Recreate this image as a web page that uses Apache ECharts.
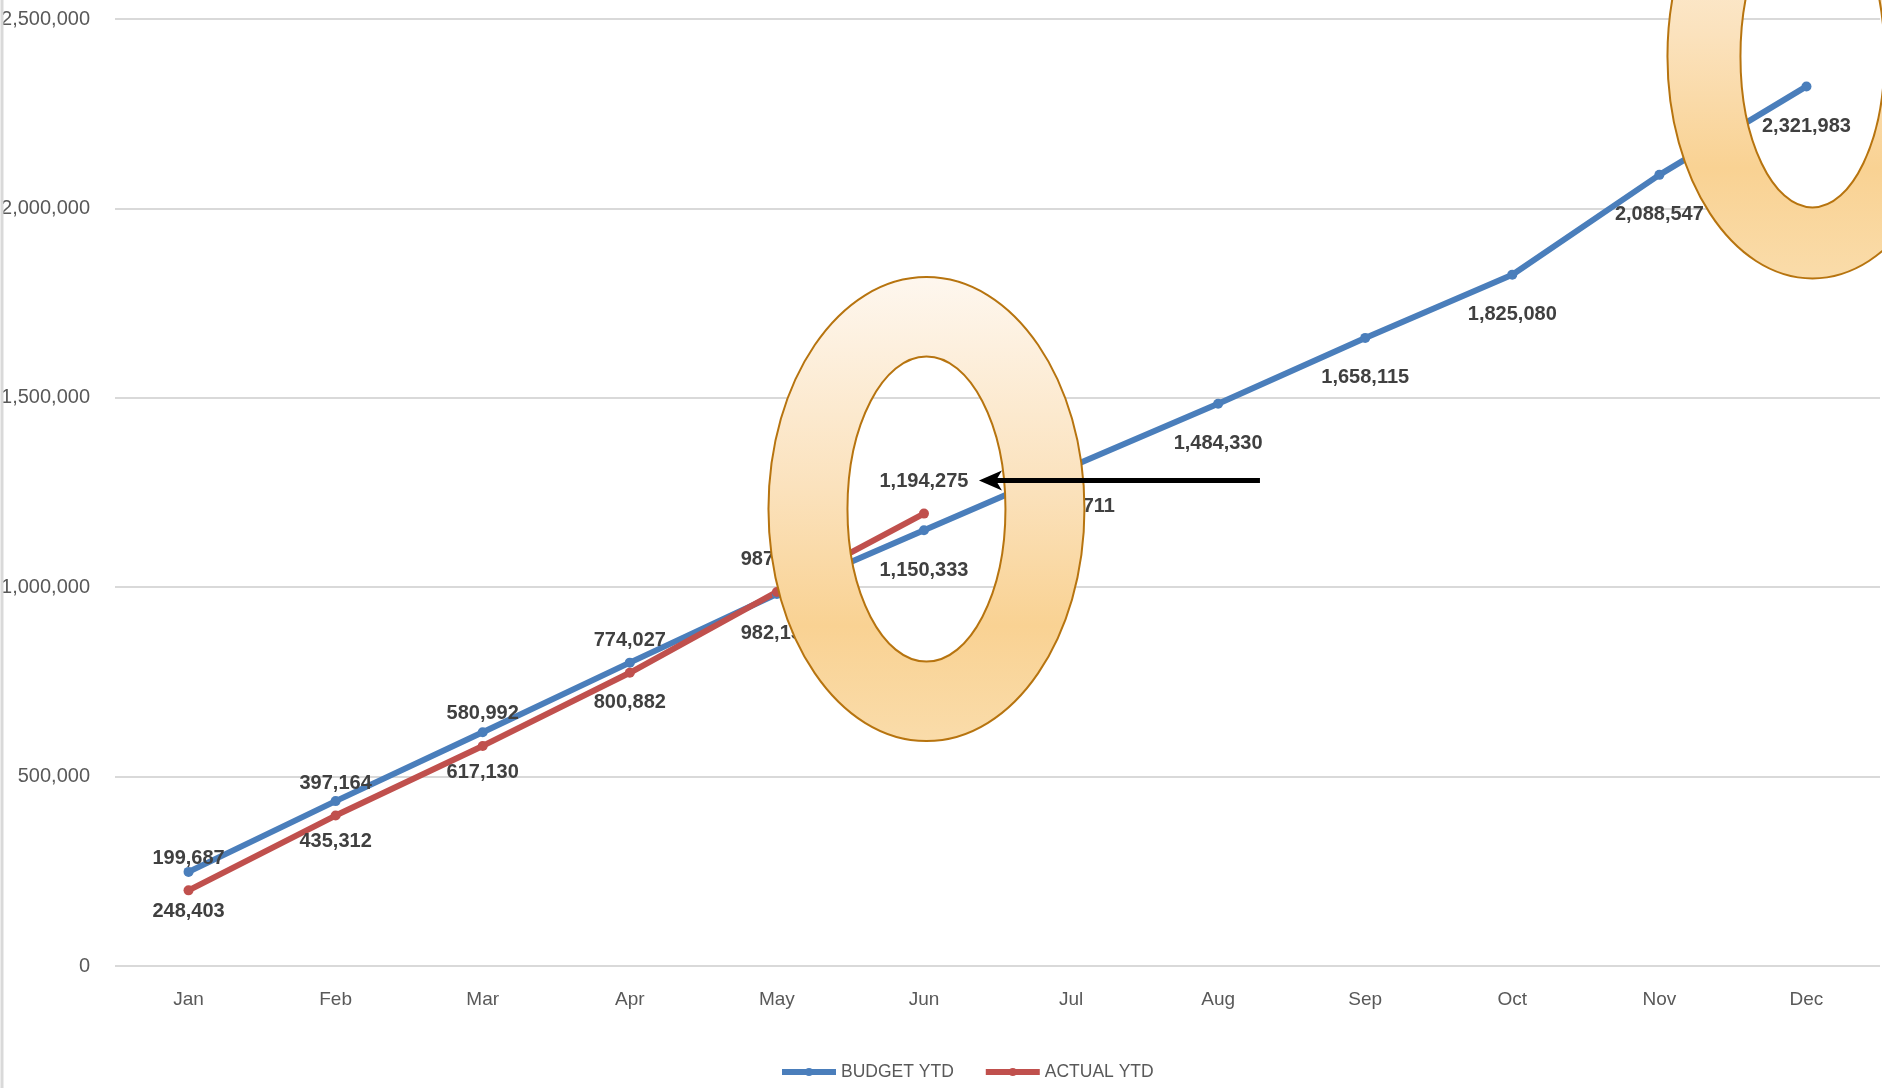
<!DOCTYPE html>
<html>
<head>
<meta charset="utf-8">
<script src="https://cdn.jsdelivr.net/npm/echarts@6/dist/echarts.min.js"></script>
<style>
html,body{margin:0;padding:0;background:#fff;}
#main{width:1882px;height:1088px;}
</style>
</head>
<body>
<div id="main"></div>
<script>
const months = ['Jan','Feb','Mar','Apr','May','Jun','Jul','Aug','Sep','Oct','Nov','Dec'];
const budgetYTD = [248403, 435312, 617130, 800882, 982150, 1150333, 1317711, 1484330, 1658115, 1825080, 2088547, 2321983];
const actualYTD = [199687, 397164, 580992, 774027, 987460, 1194275];
const yMin = 0, yMax = 2500000, yStep = 500000;

const FONT = "'Liberation Sans', Arial, sans-serif";
const fmt = v => Number(v).toLocaleString('en-US');

// elliptical ring shape (outer clockwise, inner counter-clockwise => hole)
function ellipsePath(ctx, cx, cy, rx, ry, ccw) {
  const k = 0.5522848;
  ctx.moveTo(cx + rx, cy);
  if (!ccw) {
    ctx.bezierCurveTo(cx + rx, cy + k * ry, cx + k * rx, cy + ry, cx, cy + ry);
    ctx.bezierCurveTo(cx - k * rx, cy + ry, cx - rx, cy + k * ry, cx - rx, cy);
    ctx.bezierCurveTo(cx - rx, cy - k * ry, cx - k * rx, cy - ry, cx, cy - ry);
    ctx.bezierCurveTo(cx + k * rx, cy - ry, cx + rx, cy - k * ry, cx + rx, cy);
  } else {
    ctx.bezierCurveTo(cx + rx, cy - k * ry, cx + k * rx, cy - ry, cx, cy - ry);
    ctx.bezierCurveTo(cx - k * rx, cy - ry, cx - rx, cy - k * ry, cx - rx, cy);
    ctx.bezierCurveTo(cx - rx, cy + k * ry, cx - k * rx, cy + ry, cx, cy + ry);
    ctx.bezierCurveTo(cx + k * rx, cy + ry, cx + rx, cy + k * ry, cx + rx, cy);
  }
  ctx.closePath();
}
echarts.graphic.registerShape('ellipseRing', echarts.graphic.extendShape({
  shape: {cx: 0, cy: 0, rx: 0, ry: 0, irx: 0, iry: 0},
  buildPath: function (ctx, s) {
    ellipsePath(ctx, s.cx, s.cy, s.rx, s.ry, false);
    ellipsePath(ctx, s.cx, s.cy, s.irx, s.iry, true);
  }
}));

const chart = echarts.init(document.getElementById('main'), null, {renderer: 'canvas'});
chart.setOption({
  animation: false,
  backgroundColor: '#ffffff',
  grid: {left: 115, right: 2, top: 19, bottom: 122, containLabel: false, outerBoundsMode: 'none'},
  legend: {
    left: 774, top: 1058,
    itemWidth: 54, itemHeight: 10, itemGap: 29,
    lineStyle: {width: 6},
    textStyle: {fontFamily: FONT, fontSize: 17.5, color: '#595959'},
    data: ['BUDGET YTD', 'ACTUAL YTD']
  },
  xAxis: {
    type: 'category',
    data: months,
    boundaryGap: true,
    axisLine: {show: false},
    axisTick: {show: false},
    axisLabel: {fontFamily: FONT, fontSize: 19, color: '#595959', margin: 24}
  },
  yAxis: {
    type: 'value',
    min: yMin, max: yMax, interval: yStep,
    axisLine: {show: false},
    axisTick: {show: false},
    splitLine: {lineStyle: {color: '#d9d9d9', width: 2}},
    axisLabel: {fontFamily: FONT, fontSize: 20, color: '#595959', margin: 25, formatter: fmt}
  },
  series: [
    {
      name: 'BUDGET YTD', type: 'line', data: budgetYTD,
      symbol: 'circle', symbolSize: 10,
      lineStyle: {color: '#4a7ebb', width: 6},
      itemStyle: {color: '#4a7ebb'},
      label: {show: true, position: 'bottom', distance: 25, formatter: p => fmt(p.value),
        fontFamily: FONT, fontWeight: 'bold', fontSize: 20, color: '#404040'}
    },
    {
      name: 'ACTUAL YTD', type: 'line', data: actualYTD,
      symbol: 'circle', symbolSize: 10,
      lineStyle: {color: '#c0504d', width: 6},
      itemStyle: {color: '#c0504d'},
      label: {show: true, position: 'top', distance: 17, formatter: p => fmt(p.value),
        fontFamily: FONT, fontWeight: 'bold', fontSize: 20, color: '#404040'}
    }
  ]
});

const ringFill = {
  type: 'linear', x: 0, y: 0, x2: 0, y2: 1,
  colorStops: [
    {offset: 0, color: '#fef7ef'},
    {offset: 0.45, color: '#fbe2bd'},
    {offset: 0.75, color: '#f9d293'},
    {offset: 1, color: '#fadcaa'}
  ]
};

const junPt = chart.convertToPixel({xAxisIndex: 0, yAxisIndex: 0}, ['Jun', actualYTD[5]]);
const decPt = chart.convertToPixel({xAxisIndex: 0, yAxisIndex: 0}, ['Dec', budgetYTD[11]]);
const r1 = {cx: junPt[0] + 2.5, cy: junPt[1] - 4.5};
const r2 = {cx: decPt[0] + 6, cy: decPt[1] - 30};
const arrowY = junPt[1] - 33;

chart.setOption({
  graphic: [
    {type: 'line', z: 100, shape: {x1: 2, y1: 0, x2: 2, y2: 1088}, style: {stroke: '#d9d9d9', lineWidth: 3}},
    {type: 'ellipseRing', z: 100, shape: {cx: r1.cx, cy: r1.cy, rx: 158, ry: 232, irx: 79, iry: 152.5},
      style: {fill: ringFill, stroke: '#b7740f', lineWidth: 2}},
    {type: 'ellipseRing', z: 100, shape: {cx: r2.cx, cy: r2.cy, rx: 145, ry: 222, irx: 72, iry: 151},
      style: {fill: ringFill, stroke: '#b7740f', lineWidth: 2}},
    {type: 'line', z: 101, shape: {x1: junPt[0] + 336, y1: arrowY, x2: junPt[0] + 70, y2: arrowY},
      style: {stroke: '#000', lineWidth: 5}},
    {type: 'polygon', z: 101, shape: {points: [
      [junPt[0] + 55, arrowY], [junPt[0] + 78, arrowY - 10], [junPt[0] + 72, arrowY], [junPt[0] + 78, arrowY + 10]
    ]}, style: {fill: '#000'}}
  ]
});
</script>
</body>
</html>
